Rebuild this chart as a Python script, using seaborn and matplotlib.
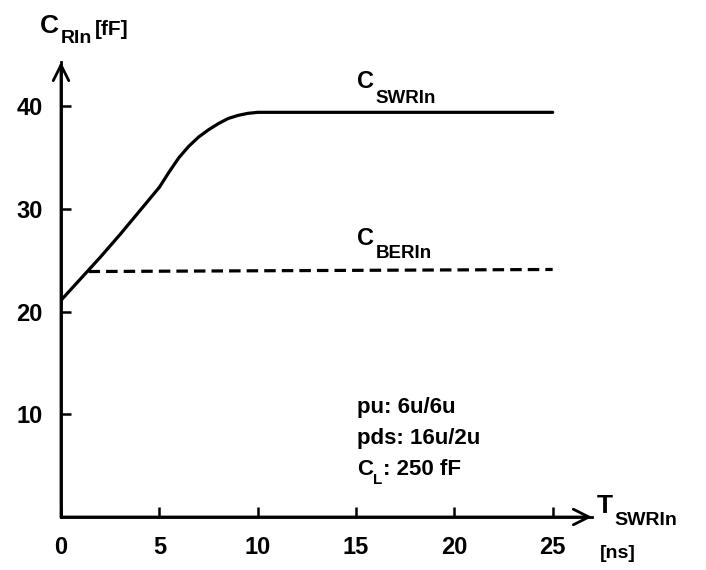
import matplotlib
matplotlib.use("Agg")
import matplotlib.pyplot as plt
import seaborn as sns
import pandas as pd

# ---- data ----
sw_x = [0, 1, 2, 3, 4, 5, 5.5, 6, 6.5, 7, 7.5, 8, 8.5, 9, 9.5, 10, 25]
sw_y = [21.1, 23.2, 25.3, 27.5, 29.8, 32.1, 33.6, 35.0, 36.1, 37.0, 37.7, 38.3, 38.8, 39.1, 39.3, 39.4, 39.4]
ber_x = [1.4, 25]
ber_y = [23.9, 24.1]
x_ticks = [0, 5, 10, 15, 20, 25]
y_ticks = [10, 20, 30, 40]
notes = ["pu: 6u/6u", "pds: 16u/2u"]
note_cl = ("C", "L", ": 250 fF")

sns.set_theme(style="ticks")
FONT = "Liberation Sans"
plt.rcParams.update({
    "font.family": [FONT, "DejaVu Sans"],
    "font.weight": "bold",
    "text.color": "black",
    "axes.axisbelow": False,
})

W, H = 706, 570
fig = plt.figure(figsize=(W / 100, H / 100), dpi=100)
left, right, bottom, top = 61, 592, 517, 62
ax = fig.add_axes([left / W, (H - bottom) / H, (right - left) / W, (bottom - top) / H])

df_sw = pd.DataFrame({"t": sw_x, "c": sw_y})
df_ber = pd.DataFrame({"t": ber_x, "c": ber_y})
sns.lineplot(data=df_sw, x="t", y="c", ax=ax, color="black", lw=2.3, sort=False)
sns.lineplot(data=df_ber, x="t", y="c", ax=ax, color="black", lw=2.3, sort=False,
             linestyle=(0, (3.6, 1.9)))

ax.set_xlim(0, 27.0)
ax.set_ylim(0, 44.3)
ax.spines["top"].set_visible(False)
ax.spines["right"].set_visible(False)
for side in ("left", "bottom"):
    ax.spines[side].set_visible(True)
    ax.spines[side].set_color("black")
    ax.spines[side].set_linewidth(2.0)

# axis arrow heads
arrow = dict(arrowstyle="->", lw=2.0, color="black", mutation_scale=28, shrinkA=0, shrinkB=0)
ax.annotate("", xy=(1, 0), xytext=(0, 0), xycoords="axes fraction", arrowprops=arrow)
ax.annotate("", xy=(0, 1), xytext=(0, 0), xycoords="axes fraction", arrowprops=arrow)

ax.set_xticks(x_ticks)
ax.set_xticklabels([str(v) for v in x_ticks])
ax.set_yticks(y_ticks)
ax.set_yticklabels([str(v) for v in y_ticks])
ax.tick_params(axis="both", which="major", bottom=True, left=True, top=False, right=False,
               direction="in", length=7.5, width=1.8, color="black",
               labelsize=17, labelcolor="black", pad=13)
ax.tick_params(axis="x", pad=14)
for lab in ax.get_xticklabels() + ax.get_yticklabels():
    lab.set_fontweight("bold")
ax.set_xlabel("")
ax.set_ylabel("")

renderer = fig.canvas.get_renderer()


def put(px, py, s, size):
    """place text with baseline at pixel (px, py) measured from top-left"""
    return fig.text(px / W, 1 - py / H, s, fontsize=size, va="baseline", ha="left")


def with_sub(px, py, main, sub, size_main, size_sub, drop, gap=1.5):
    t = put(px, py, main, size_main)
    bb = t.get_window_extent(renderer)
    return put(bb.x1 + gap, py + drop, sub, size_sub)


def data_px(x, y):
    dx, dy = ax.transData.transform((x, y))
    return dx, H - dy


# curve labels
px, py = data_px(15.05, 41.8)
with_sub(px, py, "C", "SWRIn", 17, 13.5, 15)
px, py = data_px(15.05, 26.5)
with_sub(px, py, "C", "BERIn", 17, 13.5, 13)

# parameter notes
for yy, t in zip([10.1, 7.1], notes):
    px, py = data_px(15.05, yy)
    put(px, py, t, 16)
px, py = data_px(15.05, 4.1)
tl = with_sub(px, py, note_cl[0], note_cl[1], 16, 11, 9, gap=0.5)
bb = tl.get_window_extent(renderer)
put(bb.x1 + 0.5, py, note_cl[2], 16)

# axis titles
with_sub(40, 33, "C", "RIn", 19, 14, 10)
put(95, 35, "[fF]", 15)
with_sub(597, 513, "T", "SWRIn", 19, 14, 12, gap=1)
put(600, 558, "[ns]", 14)

fig.savefig("out.png", dpi=100)
